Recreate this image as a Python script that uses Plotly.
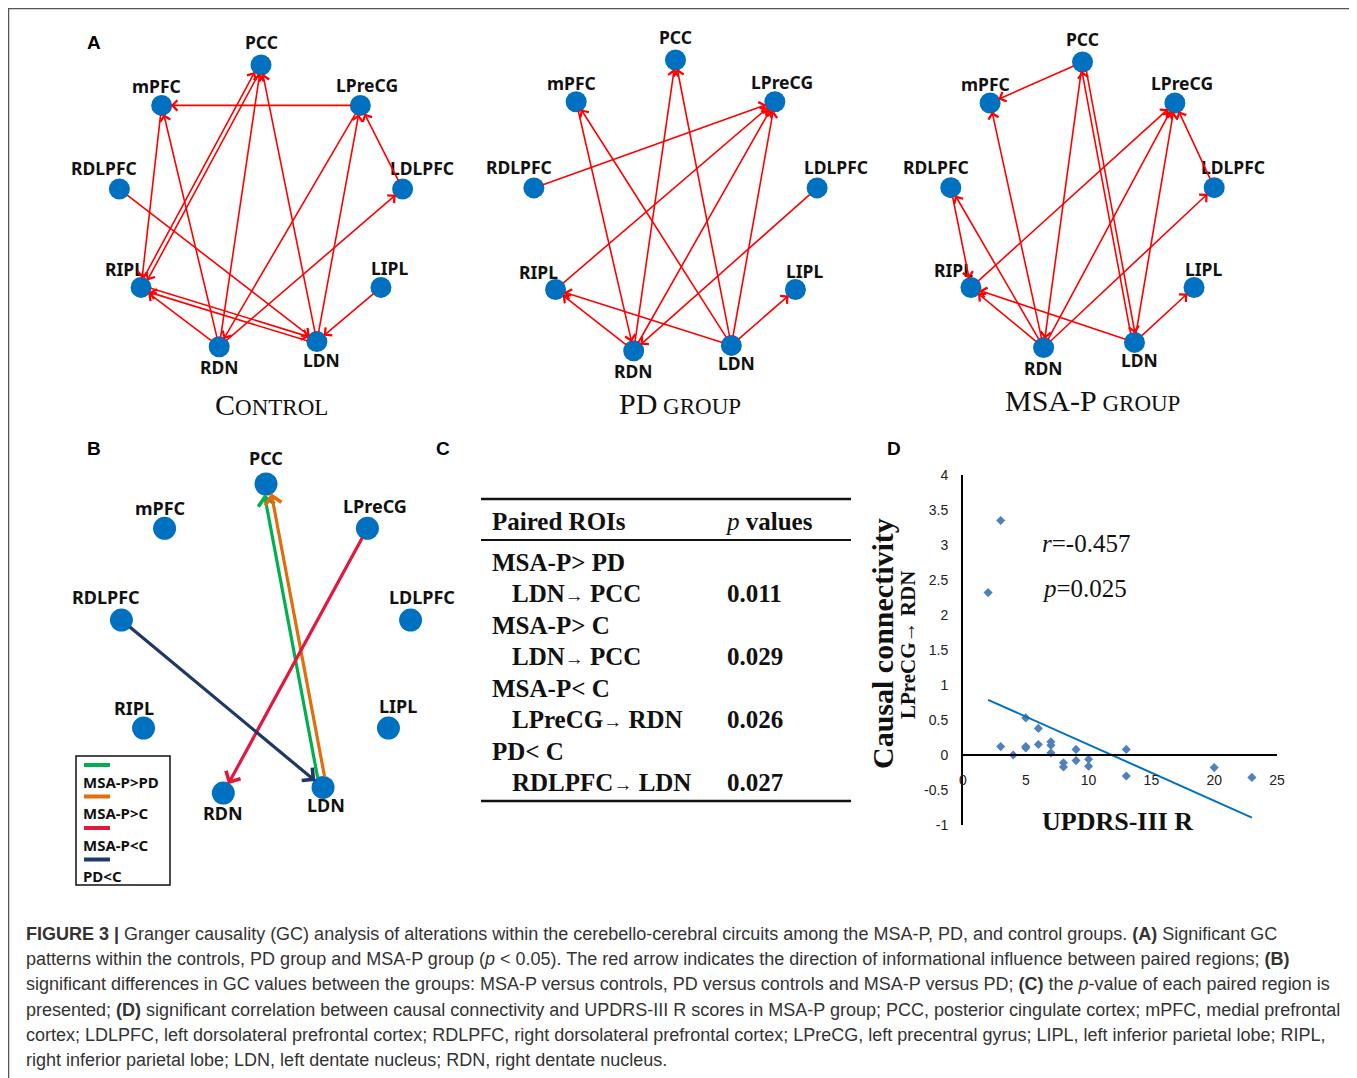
import math
import numpy as np
import plotly.graph_objects as go

W, H = 1357, 1078
BODY = 8                      # default page margin around the plot div
PW, PH = W - BODY, H - BODY   # plot size that fits the window

# ---------------- data ----------------
NODE_ORDER = ["PCC", "LPreCG", "LDLPFC", "LIPL", "LDN", "RDN", "RIPL", "RDLPFC", "mPFC"]  # clockwise from top

CONTROL_EDGES = [("LPreCG", "mPFC"), ("PCC", "RIPL"), ("RIPL", "PCC"), ("mPFC", "RIPL"),
                 ("RDN", "mPFC"), ("RDN", "PCC"), ("LDN", "PCC"), ("LPreCG", "RDN"),
                 ("LDN", "LPreCG"), ("LDLPFC", "LPreCG"), ("RDN", "LDLPFC"), ("RDLPFC", "LDN"),
                 ("RIPL", "LDN"), ("LDN", "RIPL"), ("RDN", "RIPL"), ("LIPL", "LDN")]
PD_EDGES = [("RDLPFC", "LPreCG"), ("mPFC", "RDN"), ("LDN", "mPFC"), ("RDN", "PCC"),
            ("LDN", "PCC"), ("RIPL", "LPreCG"), ("RDN", "LPreCG"), ("LDN", "LPreCG"),
            ("LDLPFC", "RDN"), ("RDN", "RIPL"), ("LDN", "RIPL"), ("LDN", "LIPL")]
MSAP_EDGES = [("PCC", "mPFC"), ("RDN", "mPFC"), ("PCC", "RDN"), ("PCC", "LDN"), ("LDN", "PCC"),
              ("RIPL", "LPreCG"), ("RDN", "LPreCG"), ("LDN", "LPreCG"), ("LDLPFC", "LPreCG"),
              ("RDN", "LDLPFC"), ("RDLPFC", "RIPL"), ("RDN", "RDLPFC"), ("RDN", "RIPL"),
              ("LDN", "RIPL"), ("LDN", "LIPL")]
DIFF_EDGES = [("LDN", "PCC"), ("LDN", "PCC"), ("LPreCG", "RDN"), ("RDLPFC", "LDN")]
DIFF_GROUPS = ["MSA-P>PD", "MSA-P>C", "MSA-P<C", "PD<C"]

PANEL_TITLES = [("C", "ONTROL"), ("PD", " GROUP"), ("MSA-P", " GROUP")]

TABLE_HEADER = ["Paired ROIs", "p values"]
TABLE_CONTRASTS = ["MSA-P> PD", "MSA-P> C", "MSA-P< C", "PD< C"]
TABLE_PAIRS = [("LDN", "PCC"), ("LDN", "PCC"), ("LPreCG", "RDN"), ("RDLPFC", "LDN")]
TABLE_P = ["0.011", "0.029", "0.026", "0.027"]

UPDRS = [2, 3, 3, 4, 5, 5, 5, 6, 6, 7, 7, 7, 8, 8, 9, 9, 10, 10, 13, 13, 20, 23]
CONN = [2.32, 3.35, 0.12, 0.0, 0.53, 0.12, 0.10, 0.38, 0.15, 0.19, 0.14, 0.03,
        -0.11, -0.17, 0.08, -0.08, -0.06, -0.16, 0.08, -0.30, -0.18, -0.32]
X_TICKS = [0, 5, 10, 15, 20, 25]
Y_TICKS = [-1, -0.5, 0, 0.5, 1, 1.5, 2, 2.5, 3, 3.5, 4]
Y_TICK_TEXT = ["-1", "-0.5", "0", "0.5", "1", "1.5", "2", "2.5", "3", "3.5", "4"]
STAT_R = "-0.457"
STAT_P = "0.025"

CAPTION = [
    "<b>FIGURE 3 |</b> Granger causality (GC) analysis of alterations within the cerebello-cerebral circuits among the MSA-P, PD, and control groups. <b>(A)</b> Significant GC",
    "patterns within the controls, PD group and MSA-P group (<i>p</i> &lt; 0.05). The red arrow indicates the direction of informational influence between paired regions; <b>(B)</b>",
    "significant differences in GC values between the groups: MSA-P versus controls, PD versus controls and MSA-P versus PD; <b>(C)</b> the <i>p</i>-value of each paired region is",
    "presented; <b>(D)</b> significant correlation between causal connectivity and UPDRS-III R scores in MSA-P group; PCC, posterior cingulate cortex; mPFC, medial prefrontal",
    "cortex; LDLPFC, left dorsolateral prefrontal cortex; RDLPFC, right dorsolateral prefrontal cortex; LPreCG, left precentral gyrus; LIPL, left inferior parietal lobe; RIPL,",
    "right inferior parietal lobe; LDN, left dentate nucleus; RDN, right dentate nucleus.",
]

# ---------------- style ----------------
NODE_COLOR = "#0070C0"
EDGE_RED = "#FF0000"
DIFF_COLORS = ["#00B050", "#E46C0A", "#E2183C", "#1F3864"]
LABEL_FONT = "Noto Sans, DejaVu Sans, sans-serif"
SERIF = "Liberation Serif, Times New Roman, serif"
CAP_FONT = "Liberation Sans, Arial, sans-serif"
R = 1.3
# circular layout: angle (degrees, clockwise from top) of each region on the ring
NODE_ANGLE = {"PCC": 0, "LPreCG": 44, "LDLPFC": 82, "LIPL": 123, "LDN": 157,
              "RDN": 197, "RIPL": 237, "RDLPFC": 278, "mPFC": 316}
# ring geometry in pixels: centre x, centre y, radius x, radius y
PANELS = [
    dict(key="control", cx=261, cy=209, rx=143, ry=144, edges=CONTROL_EDGES),
    dict(key="pd", cx=675.5, cy=208.6, rx=143, ry=148.6, edges=PD_EDGES),
    dict(key="msap", cx=1082.5, cy=208, rx=133, ry=146, edges=MSAP_EDGES),
    dict(key="diff", cx=266, cy=642, rx=146, ry=158, edges=DIFF_EDGES),
]
LABEL_OFF = {"PCC": (0, -23), "mPFC": (-5, -19), "LPreCG": (7, -20), "RDLPFC": (-15, -21),
             "LDLPFC": (19, -21), "RIPL": (-17, -18), "LIPL": (9, -19), "RDN": (0, 20), "LDN": (5, 18)}
LABEL_OFF_B = {"PCC": (0, -26), "mPFC": (-5, -20), "LPreCG": (8, -22), "RDLPFC": (-15, -23),
               "LDLPFC": (11, -23), "RIPL": (-10, -20), "LIPL": (10, -22), "RDN": (0, 20), "LDN": (3, 18)}


def px(x):
    return (x - BODY) / PW


def py(y):
    return 1 - (y - BODY) / PH


def clamp(v):
    return min(1.0, max(0.0, v))


def note(x, y, text, font, xanchor="center", yanchor="middle", **kw):
    return dict(x=px(x), y=py(y), xref="paper", yref="paper", showarrow=False, text=text,
                xanchor=xanchor, yanchor=yanchor, font=font, **kw)


node_pos = {n: (math.sin(math.radians(NODE_ANGLE[n])), math.cos(math.radians(NODE_ANGLE[n])))
            for n in NODE_ORDER}

fig = go.Figure()
annotations = []
shapes = []
layout_axes = {}

for k, p in enumerate(PANELS):
    idx = k + 1
    xn = "xaxis" if idx == 1 else f"xaxis{idx}"
    yn = "yaxis" if idx == 1 else f"yaxis{idx}"
    xr = "x" if idx == 1 else f"x{idx}"
    yr = "y" if idx == 1 else f"y{idx}"
    layout_axes[xn] = dict(domain=[clamp(px(p["cx"] - R * p["rx"])), clamp(px(p["cx"] + R * p["rx"]))],
                           range=[-R, R], visible=False, anchor=yr, fixedrange=True)
    layout_axes[yn] = dict(domain=[clamp(py(p["cy"] + R * p["ry"])), clamp(py(p["cy"] - R * p["ry"]))],
                           range=[-R, R], visible=False, anchor=xr, fixedrange=True)
    is_diff = p["key"] == "diff"
    node_r = 11 if is_diff else 10
    fig.add_trace(go.Scatter(
        x=[node_pos[n][0] for n in NODE_ORDER], y=[node_pos[n][1] for n in NODE_ORDER],
        mode="markers", marker=dict(size=2 * node_r + 1, color=NODE_COLOR),
        xaxis=xr, yaxis=yr, showlegend=False, hoverinfo="skip"))
    offs = LABEL_OFF_B if is_diff else LABEL_OFF
    for n in NODE_ORDER:
        dx, dy = offs[n]
        annotations.append(dict(x=node_pos[n][0], y=node_pos[n][1], xref=xr, yref=yr,
                                xanchor="center", yanchor="middle",
                                xshift=dx, yshift=-dy, text=f"<b>{n}</b>", showarrow=False,
                                font=dict(family=LABEL_FONT, size=18 if is_diff else 17.5, color="#111")))
    edges = p["edges"]
    eset = set(edges)
    for i, (a, b) in enumerate(edges):
        ax0, ay0 = node_pos[a]
        bx0, by0 = node_pos[b]
        if is_diff:
            off = [3.5, -3.5, 0, 0][i]
            color, width, size = DIFF_COLORS[i], 3.2, 1.0
        else:
            off = 2.2 if (b, a) in eset else 0
            color, width, size = EDGE_RED, 1.6, 1.25
        dxp = (bx0 - ax0) * p["rx"]
        dyp = (by0 - ay0) * p["ry"]
        L = math.hypot(dxp, dyp)
        nx, ny = -dyp / L, dxp / L
        ox, oy = off * nx / p["rx"], off * ny / p["ry"]
        annotations.append(dict(x=bx0 + ox, y=by0 + oy, ax=ax0 + ox, ay=ay0 + oy,
                                xref=xr, yref=yr, axref=xr, ayref=yr, text="",
                                showarrow=True, arrowhead=4, arrowsize=size, arrowwidth=width,
                                arrowcolor=color, standoff=node_r - 1, startstandoff=node_r - 2))

# panel titles (A)
title_pos = [(271, 404), (680, 403), (1092, 401)]
for (big, small), (tx, ty) in zip(PANEL_TITLES, title_pos):
    annotations.append(note(tx, ty,
                            f"<span style='font-size:30px'>{big}</span><span style='font-size:23px'>{small.upper()}</span>",
                            dict(family=SERIF, size=30, color="#111")))

# panel letters
for letter, (lx, ly) in zip("ABCD", [(94, 42), (94, 448), (443, 448), (894, 448)]):
    annotations.append(note(lx, ly, f"<b>{letter}</b>", dict(family="Liberation Sans, Arial", size=19, color="#000")))

# legend of panel B
shapes.append(dict(type="rect", xref="paper", yref="paper", x0=px(76), x1=px(170), y0=py(885), y1=py(756),
                   line=dict(color="#111", width=1.5)))
for i, (g, c) in enumerate(zip(DIFF_GROUPS, DIFF_COLORS)):
    ly = 765 + i * 31.5
    shapes.append(dict(type="line", xref="paper", yref="paper", x0=px(84), x1=px(110), y0=py(ly), y1=py(ly),
                       line=dict(color=c, width=4)))
    annotations.append(note(81, ly + 16.5, f"<b>{g}</b>", dict(family=LABEL_FONT, size=15, color="#111"),
                            xanchor="left"))

# table (C)
TX0, TX1, TXV = 481, 851, 725
for yy, wdt in [(499, 2.5), (540, 2), (801, 2.5)]:
    shapes.append(dict(type="line", xref="paper", yref="paper", x0=px(TX0), x1=px(TX1), y0=py(yy), y1=py(yy),
                       line=dict(color="#111", width=wdt)))
tfont = dict(family=SERIF, size=25, color="#111")
annotations.append(note(490, 521, f"<b>{TABLE_HEADER[0]}</b>", tfont, xanchor="left"))
hp, hv = TABLE_HEADER[1].split(" ", 1)
annotations.append(note(723, 521, f"<i>{hp}</i> <b>{hv}</b>", tfont, xanchor="left"))
for i, (con, (a, b), pv) in enumerate(zip(TABLE_CONTRASTS, TABLE_PAIRS, TABLE_P)):
    y1 = 562 + 2 * i * 31.5
    y2 = y1 + 31.5
    annotations.append(note(490, y1, f"<b>{con}</b>", tfont, xanchor="left"))
    annotations.append(note(510, y2, f"<b>{a}<span style='font-size:19px'>→</span> {b}</b>", tfont, xanchor="left"))
    annotations.append(note(TXV, y2, f"<b>{pv}</b>", tfont, xanchor="left"))

# scatter (D)
fig.add_trace(go.Scatter(x=UPDRS, y=CONN, mode="markers", xaxis="x5", yaxis="y5",
                         marker=dict(symbol="diamond", size=7, color="#4F81BD"),
                         showlegend=False, hoverinfo="skip"))
coef = np.polyfit(UPDRS, CONN, 1)
xfit = np.array([min(UPDRS), max(UPDRS)])
fig.add_trace(go.Scatter(x=xfit, y=np.polyval(coef, xfit), mode="lines", xaxis="x5", yaxis="y5",
                         line=dict(color="#0070C0", width=2), showlegend=False, hoverinfo="skip"))
tickfont = dict(family="Liberation Sans, Arial", size=14, color="#222")
layout_axes["xaxis5"] = dict(domain=[px(963), px(1277)], range=[0, 25], anchor="free", position=py(755),
                             showline=True, linecolor="#000", linewidth=2, showgrid=False, zeroline=False,
                             tickvals=X_TICKS, ticks="", tickfont=tickfont, ticklabelstandoff=12, fixedrange=True)
layout_axes["yaxis5"] = dict(domain=[py(825), py(475)], range=[-1, 4], anchor="x5",
                             showline=True, linecolor="#000", linewidth=2, showgrid=False, zeroline=False,
                             tickvals=Y_TICKS, ticktext=Y_TICK_TEXT, ticks="", tickfont=tickfont,
                             ticklabelstandoff=10, fixedrange=True)
annotations += [
    note(882, 644, "<b>Causal connectivity</b>", dict(family=SERIF, size=30, color="#111"), textangle=-90),
    note(908, 645, "<b>LPreCG→ RDN</b>", dict(family=SERIF, size=21, color="#111"), textangle=-90),
    note(1117, 821, "<b>UPDRS-III R</b>", dict(family=SERIF, size=26, color="#111")),
    note(1040, 543, f"<i>r</i>={STAT_R}", dict(family=SERIF, size=25, color="#111"), xanchor="left"),
    note(1040, 588, f"<i>p</i>={STAT_P}", dict(family=SERIF, size=25, color="#111"), xanchor="left"),
]

# caption
for i, line in enumerate(CAPTION):
    annotations.append(note(24, 934 + i * 25.2, line, dict(family=CAP_FONT, size=18, color="#333"),
                            xanchor="left"))

# frame
shapes.append(dict(type="rect", xref="paper", yref="paper", x0=px(8.5), x1=px(1355.5), y0=py(1095), y1=py(8.5),
                   line=dict(color="#555", width=1.5)))

fig.update_layout(width=PW, height=PH, margin=dict(l=0, r=0, t=0, b=0, autoexpand=False),
                  paper_bgcolor="white", plot_bgcolor="rgba(0,0,0,0)",
                  annotations=annotations, shapes=shapes, **layout_axes)
fig.write_html("out.html")
